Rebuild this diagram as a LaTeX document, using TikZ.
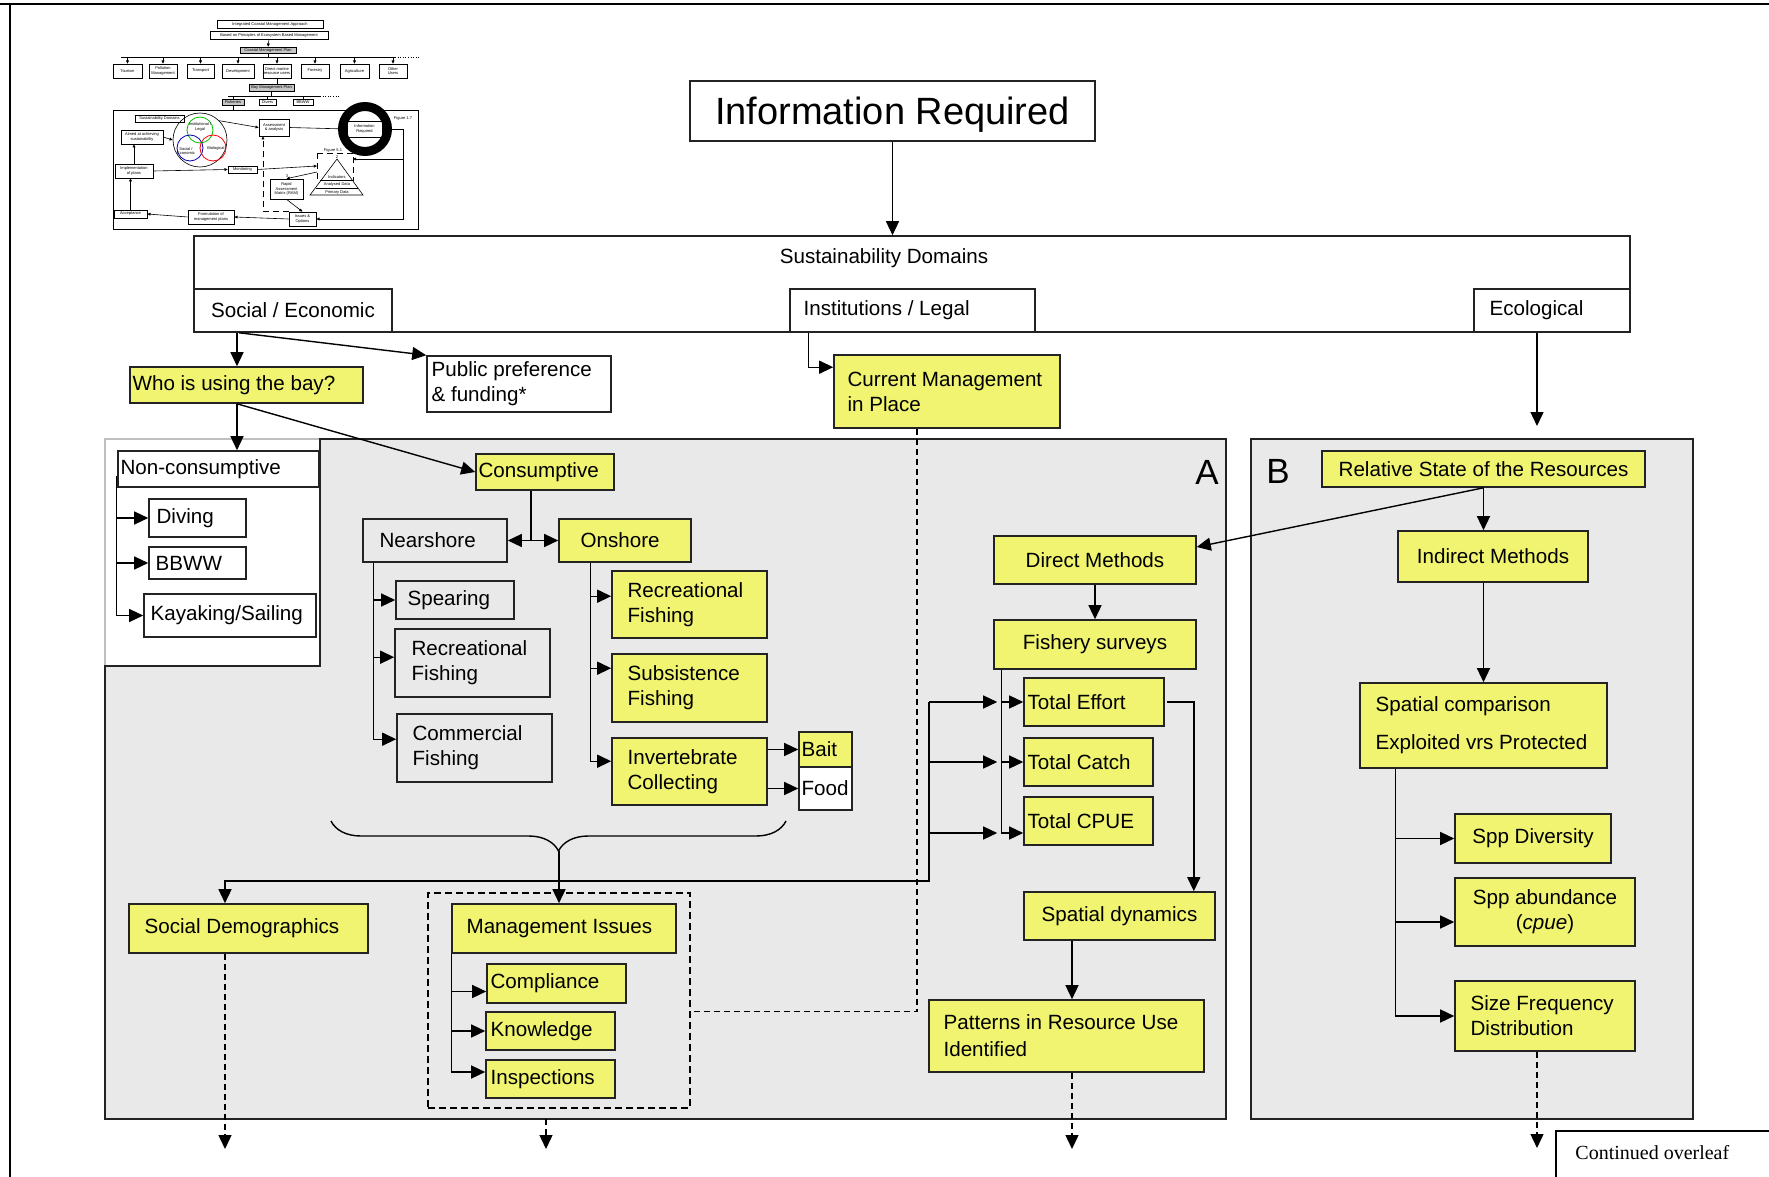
\documentclass[tikz,border=0pt]{standalone}
\usepackage{fontspec}
\setmainfont{Liberation Sans}
\newfontfamily\overleaffont{Liberation Serif}
\usetikzlibrary{arrows.meta,calc,decorations.pathreplacing}

\definecolor{boxyellow}{RGB}{240,244,112}
\definecolor{panelgrey}{RGB}{233,233,233}
\definecolor{edgeblack}{RGB}{35,35,35}

\tikzset{
  wbox/.style={rectangle, draw=edgeblack, line width=0.8pt, fill=white, inner sep=0pt},
  ybox/.style={wbox, fill=boxyellow},
  gbox/.style={wbox, fill=panelgrey},
  grpbox/.style={rectangle, draw=black, line width=0.8pt, dash pattern=on 3.5pt off 2pt, inner sep=0pt},
  panel/.style={draw=edgeblack, line width=0.8pt, fill=panelgrey},
  link/.style={line width=0.7pt},
  arr/.style={link, -{Triangle[length=7pt,width=6.5pt]}},
  dashlink/.style={link, dash pattern=on 3pt off 2pt},
  dasharr/.style={dashlink, -{Triangle[length=7pt,width=6.5pt]}},
  tbox/.style={rectangle, draw, line width=0.3pt, fill=white, inner sep=0pt, font=\fontsize{2}{2.4}\selectfont},
  tgbox/.style={tbox, fill=gray!45},
  tlink/.style={line width=0.3pt},
  tarr/.style={tlink, -{Triangle[length=1.6pt,width=1.4pt]}},
  ttext/.style={inner sep=0pt, align=center, font=\fontsize{2}{2.4}\selectfont},
}

% box from its corners (x1,y1) (x2,y2), text centred
\newcommand{\mkbox}[7]{%
  \node[#2, minimum width={(#5-(#3))*0.5pt}, minimum height={(#6-(#4))*0.5pt}, align=center]
    (#1) at ({(#3+#5)/2},{(#4+#6)/2}) {#7};}
% same, text set to the left with an inset
\newcommand{\mkleftbox}[8]{%
  \node[#2, minimum width={(#5-(#3))*0.5pt}, minimum height={(#6-(#4))*0.5pt}]
    (#1) at ({(#3+#5)/2},{(#4+#6)/2}) {};
  \node[anchor=west, align=left, inner sep=0pt] (#1-t) at ($(#1.west)+(#7,0)$) {#8};}

\begin{document}
\begin{tikzpicture}[x=0.5pt, y=-0.5pt, font=\fontsize{10.3}{12.5}\selectfont]
  \useasboundingbox (0,0) rectangle (1769,1177);

  % --- page frame ---
  \draw[line width=1.4pt] (0,4) -- (1769,4);
  \draw[line width=0.8pt] (10,4) -- (10,1177);

  % --- thumbnail of the whole framework ---
  \mkbox{tICMA}{tbox}{217}{20}{323}{28}{Integrated Coastal Management Approach}
  \mkbox{tBased}{tbox}{210}{31}{328}{39}{Based on Principles of Ecosystem Based Management}
  \mkbox{tCMP}{tgbox}{240}{47}{296}{53}{Coastal Management Plan}
  \draw[tarr] (tBased.south) -- (tCMP.north);
  \coordinate (trail) at (121,57);
  \draw[tlink] (tCMP.south) -- (tCMP.south |- trail);
  \draw[tlink] (trail) -- (395,57);
  \draw[tlink, densely dotted] (395,57) -- (420,57);
  \foreach \xa/\xb/\nm/\txt in {113/142/tTour/Tourism, 149/177/tPoll/{Pollution\\Management},
      187/214/tTrans/Transport, 222/254/tDev/Development, 263/291/tDir/{Direct marine\\resource users},
      301/329/tFor/Forestry, 340/369/tAgr/Agriculture, 379/407/tOth/{Other\\Users}} {
    \mkbox{\nm}{tbox}{\xa}{64}{\xb}{78}{\txt}
    \draw[tarr] (\nm |- trail) -- (\nm.north);
  }
  \mkbox{tBMP}{tgbox}{249}{84}{294}{91}{Bay Management Plan}
  \draw[tlink] (tDir.south) -- (tDir.south |- tBMP.north);
  \coordinate (trail2) at (228,96);
  \draw[tlink] (tBMP.south) -- (tBMP.south |- trail2);
  \draw[tlink] (trail2) -- (320,96);
  \draw[tlink, densely dotted] (320,96) -- (340,96);
  \mkbox{tFish}{tgbox}{222}{99}{244}{105}{Fisheries}
  \mkbox{tDiv}{tbox}{259}{99}{276}{105}{Divers}
  \mkbox{tBB}{tbox}{293}{99}{313}{105}{BBWW}
  \foreach \nm in {tFish,tDiv,tBB} \draw[tlink] (\nm |- trail2) -- (\nm.north);
  \mkbox{tframe}{tbox}{113}{110}{418}{229}{}
  \draw[tlink] (tFish.south) -- (tFish.south |- tframe.north);
  \mkbox{tSD}{tbox}{135}{115}{184}{122}{Sustainability Domains}
  \mkbox{tAim}{tbox}{121}{130}{163}{144}{Aimed at achieving\\sustainability}
  \node[circle, draw, tlink, minimum size=27pt, inner sep=0pt] (tCirc) at (200,140) {};
  \draw[green!75!black, line width=0.4pt] (200,130) circle (6.5pt);
  \draw[blue!70!black, line width=0.4pt] (190,148) circle (6.5pt);
  \draw[red, line width=0.4pt] (213,148) circle (6.5pt);
  \node[ttext] (tInst) at (200,127) {Institutional /\\Legal};
  \node[ttext] (tSoc) at (186,151) {Social /\\Economic};
  \node[ttext] (tBio) at (216,148) {Biological};
  \mkbox{tAss}{tbox}{259}{119}{289}{136}{Assessment\\\& analysis}
  \mkbox{tInf}{tbox}{347}{121}{382}{137}{Information\\Required}
  \draw[line width=4.5pt] (365,129) circle (11.25pt);
  \node[ttext] (tFig17) at (403,118) {Figure 1.7};
  \node[ttext] (tFig51) at (333,150) {Figure 5.1};
  \node[ttext] (tTwo) at (337,157) {2};
  \draw[tlink] (337,159) -- (310,195) -- (363,195) -- cycle;
  \draw[tlink] (321.5,180) -- (352.5,180);
  \draw[tlink] (315.6,188) -- (358.4,188);
  \node[ttext] (tInd) at (337,177) {Indicators};
  \node[ttext] (tAna) at (337,184) {Analysed Data};
  \node[ttext] (tPri) at (337,192) {Primary Data};
  \draw[tlink, densely dashed] (317,153) rectangle (353,180);
  \mkbox{tMon}{tbox}{228}{166}{257}{173}{Monitoring}
  \mkbox{tImp}{tbox}{115}{164}{153}{178}{Implementation\\of plans}
  \node[ttext] (tThree) at (287,176) {3};
  \mkbox{tRAM}{tbox}{270}{179}{303}{199}{Rapid\\Assessment\\Matrix (RAM)}
  \mkbox{tIss}{tbox}{289}{212}{316}{226}{Issues \&\\Options}
  \mkbox{tForm}{tbox}{188}{210}{234}{224}{Formulation of\\management plans}
  \mkbox{tAcc}{tbox}{114}{210}{147}{218}{Acceptance}
  \coordinate (tright) at (403,133);
  \coordinate (ttri) at (353,159);
  \draw[tarr] (tAim.east) -- (tCirc.west);
  \draw[tarr] (tCirc.north east) -- (tAss.west);
  \draw[tlink] (tAss.east) -- (tInf.west);
  \draw[tarr] (tInf.east) -- (tInf.east -| tright) |- (tIss.east);
  \draw[tarr] (ttri -| tright) -- (ttri);
  \draw[tarr] (tImp.east) -- (tMon.west);
  \draw[tarr] (tMon.east) -- (317,166);
  \draw[tarr] (317,172) -- (tRAM.north);
  \draw[tarr] (tRAM.south) -- (tIss.north);
  \draw[tarr] (tIss.west) -- (tForm.east);
  \draw[tarr] (tForm.west) -- (tAcc.east);
  \draw[tarr] (tAcc.north) -- (tAcc.north |- tImp.south);
  \draw[tarr] (tImp.north) -- (tImp.north |- tAim.south);
  \draw[tarr, densely dashed] (tIss.north west) -| ($(tAss.south)+(-11,0)$);

  % --- panels A and B ---
  \draw[draw=gray!50, line width=0.6pt, fill=white] (105,439) rectangle (320,666);
  \draw[panel] (320,439) -- (1226,439) -- (1226,1119) -- (105,1119) -- (105,666) -- (320,666) -- cycle;
  \draw[panel] (1251,439) rectangle (1693,1119);
  \node[font=\fontsize{17.5}{20}\selectfont] (labA) at (1207,472) {A};
  \node[font=\fontsize{17.5}{20}\selectfont] (labB) at (1278,471) {B};

  % --- top of the chart ---
  \mkbox{info}{wbox, text depth=0pt, font=\fontsize{19}{22}\selectfont}{690}{81}{1095}{141}{Information Required}
  \mkbox{sust}{wbox}{194}{236}{1630}{332}{}
  \node (sustlbl) at (884,258) {Sustainability Domains};
  \mkbox{soc}{wbox}{194}{289}{392}{332}{Social / Economic}
  \mkleftbox{inst}{wbox}{790}{289}{1035}{332}{14}{Institutions / Legal}
  \mkleftbox{eco}{wbox}{1474}{289}{1630}{332}{16}{Ecological}
  \mkleftbox{who}{ybox}{130}{367}{363}{403}{3}{Who is using the bay?}
  \mkleftbox{pub}{wbox}{427}{356}{611}{412}{5}{Public preference\\\& funding*}
  \mkleftbox{curr}{ybox}{834}{355}{1060}{428}{14}{Current Management\\in Place}

  % --- users of the bay ---
  \mkleftbox{noncons}{wbox}{118}{451}{319}{487}{3}{Non-consumptive}
  \mkleftbox{diving}{wbox}{149}{499}{246}{537}{8}{Diving}
  \mkleftbox{bbww}{wbox}{149}{547}{246}{579}{7}{BBWW}
  \mkleftbox{kayak}{wbox}{144}{594}{316}{637}{7}{Kayaking/Sailing}
  \mkleftbox{cons}{ybox}{476}{454}{614}{490}{3}{Consumptive}
  \mkleftbox{near}{gbox}{363}{519}{507}{562}{17}{Nearshore}
  \mkleftbox{onsh}{ybox}{559}{519}{691}{562}{22}{Onshore}
  \mkleftbox{spear}{gbox}{396}{581}{514}{619}{12}{Spearing}
  \mkleftbox{recn}{gbox}{395}{629}{550}{697}{17}{Recreational\\Fishing}
  \mkleftbox{comm}{gbox}{397}{714}{552}{782}{16}{Commercial\\Fishing}
  \mkleftbox{reco}{ybox}{612}{571}{767}{638}{16}{Recreational\\Fishing}
  \mkleftbox{subs}{ybox}{612}{654}{767}{722}{16}{Subsistence\\Fishing}
  \mkleftbox{inv}{ybox}{612}{738}{767}{805}{16}{Invertebrate\\Collecting}
  \mkleftbox{bait}{ybox}{799}{732}{852}{767}{3}{Bait}
  \mkleftbox{food}{wbox}{799}{767}{852}{810}{3}{Food}

  % --- direct methods ---
  \mkbox{direct}{ybox}{994}{536}{1196}{584}{Direct Methods}
  \mkbox{fish}{ybox}{994}{620}{1196}{669}{Fishery surveys}
  \mkleftbox{teff}{ybox}{1024}{678}{1164}{726}{4}{Total Effort}
  \mkleftbox{tcat}{ybox}{1024}{738}{1153}{786}{4}{Total Catch}
  \mkleftbox{tcpue}{ybox}{1024}{797}{1153}{845}{4}{Total CPUE}
  \mkbox{spdyn}{ybox}{1024}{892}{1215}{940}{Spatial dynamics}
  \mkleftbox{patt}{ybox}{929}{1000}{1204}{1072}{15}{Patterns in Resource Use\\[1pt]Identified}

  % --- lower left ---
  \mkleftbox{socdem}{ybox}{129}{904}{368}{953}{16}{Social Demographics}
  \mkbox{mgmtgrp}{grpbox}{428}{893}{690}{1108}{}
  \mkleftbox{mgmt}{ybox}{452}{904}{676}{953}{15}{Management Issues}
  \mkleftbox{compl}{ybox}{487}{964}{626}{1003}{4}{Compliance}
  \mkleftbox{know}{ybox}{486}{1012}{615}{1050}{5}{Knowledge}
  \mkleftbox{insp}{ybox}{486}{1060}{615}{1098}{5}{Inspections}

  % --- panel B ---
  \mkbox{rel}{ybox}{1322}{451}{1645}{487}{Relative State of the Resources}
  \mkbox{indir}{ybox}{1398}{531}{1588}{582}{Indirect Methods}
  \mkleftbox{spcomp}{ybox}{1360}{683}{1607}{768}{16}{Spatial comparison\\[6.5pt]Exploited vrs Protected}
  \mkbox{sppdiv}{ybox}{1455}{814}{1611}{863}{Spp Diversity}
  \mkbox{sppab}{ybox}{1455}{878}{1635}{946}{Spp abundance\\(\textit{cpue})}
  \mkleftbox{sizef}{ybox}{1455}{981}{1635}{1051}{16}{Size Frequency\\Distribution}

  % --- continued overleaf ---
  \draw[line width=0.9pt] (1556,1177) |- (1769,1131);
  \node[anchor=west, inner sep=0pt, font=\overleaffont\fontsize{10}{12}\selectfont] (contd) at (1575,1153) {Continued overleaf};

  % --- connectors, top ---
  \draw[arr] (info.south) -- (info.south |- sust.north);
  \coordinate (whox) at ($(who.north)+(-9.5,0)$);
  \draw[arr] (whox |- soc.south) -- (whox);
  \draw[arr] ($(soc.south west)+(46,0)$) -- (pub.north west);
  \coordinate (instdrop) at ($(inst.south west)+(19,0)$);
  \draw[arr] (instdrop) |- ([yshift=-6.5pt]curr.north west);
  \coordinate (ecoend) at (1537,426);
  \draw[arr] (ecoend |- eco.south) -- (ecoend);

  % --- connectors, users ---
  \draw[arr] (whox |- who.south) -- (whox |- noncons.north);
  \draw[arr] (whox |- who.south) -- (cons.west);
  \coordinate (ncrail) at ($(noncons.south west)+(-1,-12)$);
  \draw[arr] (ncrail) |- (kayak.west);
  \foreach \leaf in {diving,bbww} \draw[arr] (ncrail |- \leaf.west) -- (\leaf.west);
  \coordinate (consdrop) at ($(cons.south)+(-14,0)$);
  \draw[link] (consdrop) -- (consdrop |- near.east);
  \draw[arr] (consdrop |- near.east) -- (near.east);
  \draw[arr] (consdrop |- near.east) -- (onsh.west);
  \coordinate (nrail) at ($(near.south west)+(11,0)$);
  \coordinate (recnin) at ([yshift=-14.5pt]recn.north west);
  \coordinate (commin) at ([yshift=-13pt]comm.north west);
  \draw[arr] (nrail) |- (commin);
  \draw[arr] (nrail |- spear.west) -- (spear.west);
  \draw[arr] (nrail |- recnin) -- (recnin);
  \coordinate (orail) at ($(onsh.south west)+(32,0)$);
  \coordinate (recoin) at ([yshift=-13pt]reco.north west);
  \coordinate (subsin) at ([yshift=-7.5pt]subs.north west);
  \coordinate (invin) at ([yshift=-12pt]inv.north west);
  \draw[arr] (orail) |- (invin);
  \draw[arr] (orail |- recoin) -- (recoin);
  \draw[arr] (orail |- subsin) -- (subsin);
  \draw[arr] (inv.east |- bait.west) -- (bait.west);
  \draw[arr] (inv.east |- food.west) -- (food.west);

  % --- brace and the fan to the totals ---
  \draw[link, decorate, decoration={brace, amplitude=15pt}] (786,821) -- (331,821);
  \coordinate (bracetip) at (559,851);
  \draw[arr] (bracetip) -- (bracetip |- mgmt.north);
  \coordinate (fanx) at (929,881);
  \coordinate (sdtop) at ($(socdem.north)+(-23.5,0)$);
  \coordinate (cpuein) at ([yshift=-6pt]tcpue.west);
  \draw[arr] (fanx |- teff.west) -- (fanx) -| (sdtop);
  \coordinate (fishrail) at ($(fish.south west)+(8,0)$);
  \draw[link] (fishrail) -- (fishrail |- cpuein);
  \foreach \tgt in {teff.west, tcat.west, cpuein} {
    \draw[arr] (fanx |- \tgt) -- ($(fishrail |- \tgt)+(-4,0)$);
    \draw[arr] (fishrail |- \tgt) -- (\tgt);
  }
  \draw[arr] (direct.south) -- (fish.north);
  \draw[arr] ([xshift=1pt]teff.east) -| ($(spdyn.north east)+(-22,0)$);
  \coordinate (sdx) at ($(spdyn.south)+(-47.5,0)$);
  \draw[arr] (sdx) -- (sdx |- patt.north);

  % --- management issues ---
  \coordinate (mrail) at (mgmt.south west);
  \coordinate (inspin) at ([yshift=3.5pt]insp.west);
  \coordinate (complin) at ([yshift=-4pt]compl.west);
  \draw[arr] (mrail) |- (inspin);
  \draw[arr] (mrail |- complin) -- (complin);
  \draw[arr] (mrail |- know.west) -- (know.west);
  \coordinate (cmdrop) at ($(curr.south)+(-30,0)$);
  \draw[dashlink] (cmdrop) |- ([yshift=-5.5pt]mgmtgrp.east);

  % --- panel B connectors ---
  \draw[arr] (rel.south) -- ([yshift=6.5pt]direct.east);
  \draw[arr] (rel.south) -- (rel.south |- indir.north);
  \draw[arr] (rel.south |- indir.south) -- (rel.south |- spcomp.north);
  \coordinate (brail) at ($(spcomp.south west)+(36,0)$);
  \coordinate (sppabin) at ([yshift=-5pt]sppab.west);
  \draw[arr] (brail) |- (sizef.west);
  \draw[arr] (brail |- sppdiv.west) -- (sppdiv.west);
  \draw[arr] (brail |- sppabin) -- (sppabin);

  % --- continued below ---
  \coordinate (sdend) at (225,1149);
  \coordinate (mgstart) at (546,1119);
  \coordinate (pattend) at (1072,1149);
  \coordinate (sfend) at (1537,1148);
  \draw[dasharr] (sdend |- socdem.south) -- (sdend);
  \draw[dasharr] (mgstart) -- (mgstart |- sdend);
  \draw[dasharr] (pattend |- patt.south) -- (pattend);
  \draw[dasharr] (sfend |- sizef.south) -- (sfend);
\end{tikzpicture}
\end{document}
